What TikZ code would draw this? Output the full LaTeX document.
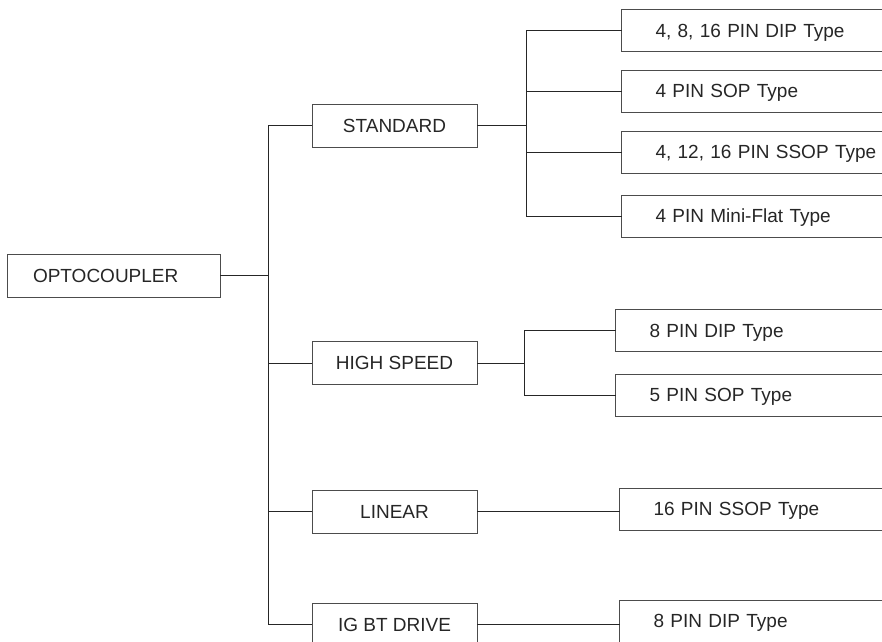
\documentclass[tikz,border=0pt]{standalone}
\usepackage{fontspec}
\setmainfont{Liberation Sans}
\begin{document}
\begin{tikzpicture}[x=1pt,y=-1pt,
  every node/.style={font=\fontsize{19}{22}\selectfont, text=black!85, text height=13.6pt, text depth=0pt},
  box/.style={draw=black!70, line width=1pt, minimum height=43pt, inner sep=0pt},
  leftbox/.style={box, minimum width=165pt},
  typebox/.style={box, anchor=west, minimum height=42pt, text width=240pt, align=left, inner xsep=34pt},
  link/.style={draw=black!85, line width=1pt, line cap=rect}]
\clip (0,0) rectangle (882,641);
\useasboundingbox (0,0) rectangle (882,641);
% root
\node[box, text width=161pt, align=left, inner xsep=26pt] (opto) at (113.5,275.5) {OPTOCOUPLER};
% middle level
\node[leftbox] (std) at (394.5,125.5) {STANDARD};
\node[leftbox] (hs) at (394.5,363) {HIGH SPEED};
\node[leftbox] (lin) at (394.5,511.5) {LINEAR};
\node[leftbox] (igbt) at (394.5,624.5) {IG BT DRIVE};
% leaves
\node[typebox] (s1) at (621,30.5) {4, 8, 16 PIN DIP Type};
\node[typebox] (s2) at (621,91) {4 PIN SOP Type};
\node[typebox] (s3) at (621,152) {4, 12, 16 PIN SSOP Type};
\node[typebox] (s4) at (621,216) {4 PIN Mini-Flat Type};
\node[typebox] (h1) at (615,330.5) {8 PIN DIP Type};
\node[typebox] (h2) at (615,395) {5 PIN SOP Type};
\node[typebox] (l1) at (619,509) {16 PIN SSOP Type};
\node[typebox] (g1) at (619,621) {8 PIN DIP Type};
% trunk
\coordinate (tr) at (268,0);
\draw[link] (opto.east) -- (opto.east -| tr);
\draw[link] (std.west -| tr) -- (igbt.west -| tr);
\foreach \n in {std,hs,lin,igbt} \draw[link] (\n.west -| tr) -- (\n.west);
% standard branch
\coordinate (sx) at (526,0);
\draw[link] (std.east) -- (std.east -| sx);
\draw[link] (s1.west -| sx) -- (s4.west -| sx);
\foreach \n in {s1,s2,s3,s4} \draw[link] (\n.west -| sx) -- (\n.west);
% high speed branch
\coordinate (hx) at (524,0);
\draw[link] (hs.east) -- (hs.east -| hx);
\draw[link] (h1.west -| hx) -- (h2.west -| hx);
\foreach \n in {h1,h2} \draw[link] (\n.west -| hx) -- (\n.west);
% linear and igbt
\draw[link] (lin.east) -- (lin.east -| l1.west);
\draw[link] (igbt.east) -- (igbt.east -| g1.west);
\end{tikzpicture}
\end{document}
